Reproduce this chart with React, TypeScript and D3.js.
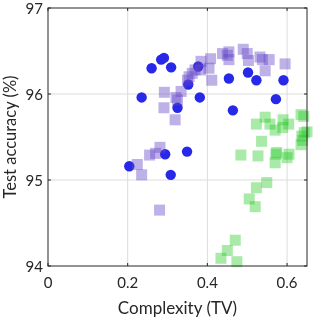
import { useEffect, useRef } from "react";
import * as d3 from "d3";

// blue circles: [complexity, accuracy]
const circleX = [0.204, 0.235, 0.26, 0.284, 0.291, 0.309, 0.294, 0.308, 0.325, 0.349, 0.352, 0.377, 0.381, 0.454, 0.464, 0.502, 0.523, 0.572, 0.591];
const circleY = [95.16, 95.96, 96.3, 96.4, 96.42, 96.31, 95.3, 95.06, 95.84, 95.33, 96.11, 96.32, 95.96, 96.18, 95.81, 96.25, 96.16, 95.94, 96.16];

// purple squares
const purpleX = [0.224, 0.235, 0.255, 0.27, 0.281, 0.28, 0.292, 0.291, 0.319, 0.321, 0.325, 0.334, 0.35, 0.354, 0.362, 0.369, 0.384, 0.383, 0.404, 0.408, 0.411, 0.438, 0.45, 0.454, 0.454, 0.49, 0.5, 0.503, 0.532, 0.538, 0.555, 0.545, 0.595];
const purpleY = [95.18, 95.06, 95.29, 95.31, 95.38, 94.65, 96.02, 95.84, 95.7, 95.96, 95.93, 96.03, 96.16, 96.2, 96.24, 96.28, 96.38, 96.28, 96.3, 96.41, 96.16, 96.47, 96.45, 96.49, 96.4, 96.52, 96.47, 96.39, 96.43, 96.4, 96.4, 96.27, 96.35];

// green squares
const greenX = [0.545, 0.523, 0.557, 0.59, 0.604, 0.589, 0.57, 0.635, 0.642, 0.643, 0.65, 0.637, 0.639, 0.635, 0.536, 0.484, 0.527, 0.574, 0.572, 0.57, 0.6, 0.605, 0.549, 0.523, 0.505, 0.52, 0.47, 0.45, 0.434, 0.474];
const greenY = [95.73, 95.65, 95.65, 95.7, 95.65, 95.61, 95.58, 95.76, 95.74, 95.55, 95.56, 95.51, 95.46, 95.41, 95.45, 95.29, 95.28, 95.32, 95.3, 95.2, 95.26, 95.3, 94.97, 94.91, 94.78, 94.69, 94.3, 94.18, 94.09, 94.05];

const xTicks = [0, 0.2, 0.4, 0.6];
const xTickLabels = ["0", "0.2", "0.4", "0.6"];
const yTicks = [94, 95, 96, 97];

export default function App() {
  const svgRef = useRef(null);

  useEffect(() => {
    const width = 316;
    const height = 324;
    const m = { left: 48, right: 9, top: 8, bottom: 58 };
    const font = "Lato, 'DejaVu Sans', sans-serif";
    const axisColor = "#262626";

    const svg = d3.select(svgRef.current);
    svg.selectAll("*").remove();
    svg.attr("width", width).attr("height", height);

    const x = d3.scaleLinear().domain([0, 0.65]).range([m.left, width - m.right]);
    const y = d3.scaleLinear().domain([94, 97]).range([height - m.bottom, m.top]);

    const [x0, x1] = x.range();
    const [y0, y1] = y.range();

    svg.append("rect").attr("x", x0).attr("y", y1).attr("width", x1 - x0).attr("height", y0 - y1).attr("fill", "white");

    // grid
    xTicks.slice(1).forEach((t) => {
      svg.append("line").attr("x1", x(t)).attr("x2", x(t)).attr("y1", y1).attr("y2", y0)
        .attr("stroke", "#dcdcdc").attr("stroke-width", 1);
    });
    yTicks.slice(1, -1).forEach((t) => {
      svg.append("line").attr("x1", x0).attr("x2", x1).attr("y1", y(t)).attr("y2", y(t))
        .attr("stroke", "#dcdcdc").attr("stroke-width", 1);
    });

    // markers
    const size = 11;
    svg.append("g").selectAll("circle").data(circleX).join("circle")
      .attr("cx", (d) => x(d)).attr("cy", (_, i) => y(circleY[i])).attr("r", 5.2)
      .attr("fill", "rgb(40,40,232)");

    svg.append("g").selectAll("rect").data(purpleX).join("rect")
      .attr("x", (d) => x(d) - size / 2).attr("y", (_, i) => y(purpleY[i]) - size / 2)
      .attr("width", size).attr("height", size)
      .attr("fill", "rgb(100,70,200)").attr("fill-opacity", 0.42);

    svg.append("g").selectAll("rect").data(greenX).join("rect")
      .attr("x", (d) => x(d) - size / 2).attr("y", (_, i) => y(greenY[i]) - size / 2)
      .attr("width", size).attr("height", size)
      .attr("fill", "rgb(30,200,30)").attr("fill-opacity", 0.38);

    // box
    svg.append("rect").attr("x", x0).attr("y", y1).attr("width", x1 - x0).attr("height", y0 - y1)
      .attr("fill", "none").attr("stroke", axisColor).attr("stroke-width", 1);

    const tl = 3;
    xTicks.forEach((t) => {
      svg.append("line").attr("x1", x(t)).attr("x2", x(t)).attr("y1", y0).attr("y2", y0 - tl).attr("stroke", axisColor);
      svg.append("line").attr("x1", x(t)).attr("x2", x(t)).attr("y1", y1).attr("y2", y1 + tl).attr("stroke", axisColor);
    });
    yTicks.forEach((t) => {
      svg.append("line").attr("x1", x0).attr("x2", x0 + tl).attr("y1", y(t)).attr("y2", y(t)).attr("stroke", axisColor);
      svg.append("line").attr("x1", x1).attr("x2", x1 - tl).attr("y1", y(t)).attr("y2", y(t)).attr("stroke", axisColor);
    });

    // tick labels
    xTicks.forEach((t, i) => {
      svg.append("text").attr("x", x(t)).attr("y", y0 + 22).attr("text-anchor", "middle")
        .attr("font-family", font).attr("font-size", "15px").attr("fill", axisColor).text(xTickLabels[i]);
    });
    yTicks.forEach((t) => {
      svg.append("text").attr("x", x0 - 5).attr("y", y(t) + 5.5).attr("text-anchor", "end")
        .attr("font-family", font).attr("font-size", "15px").attr("fill", axisColor).text(String(t));
    });

    svg.append("text").attr("x", (x0 + x1) / 2).attr("y", 314).attr("text-anchor", "middle")
      .attr("font-family", font).attr("font-size", "17px").attr("fill", axisColor).text("Complexity (TV)");

    svg.append("text").attr("transform", `translate(16,${(y0 + y1) / 2}) rotate(-90)`)
      .attr("text-anchor", "middle").attr("font-family", font).attr("font-size", "16.5px")
      .attr("fill", axisColor).text("Test accuracy (%)");
  }, []);

  return (
    <div style={{ position: "fixed", left: 0, top: 0 }}>
      <svg ref={svgRef} style={{ display: "block" }} />
    </div>
  );
}
